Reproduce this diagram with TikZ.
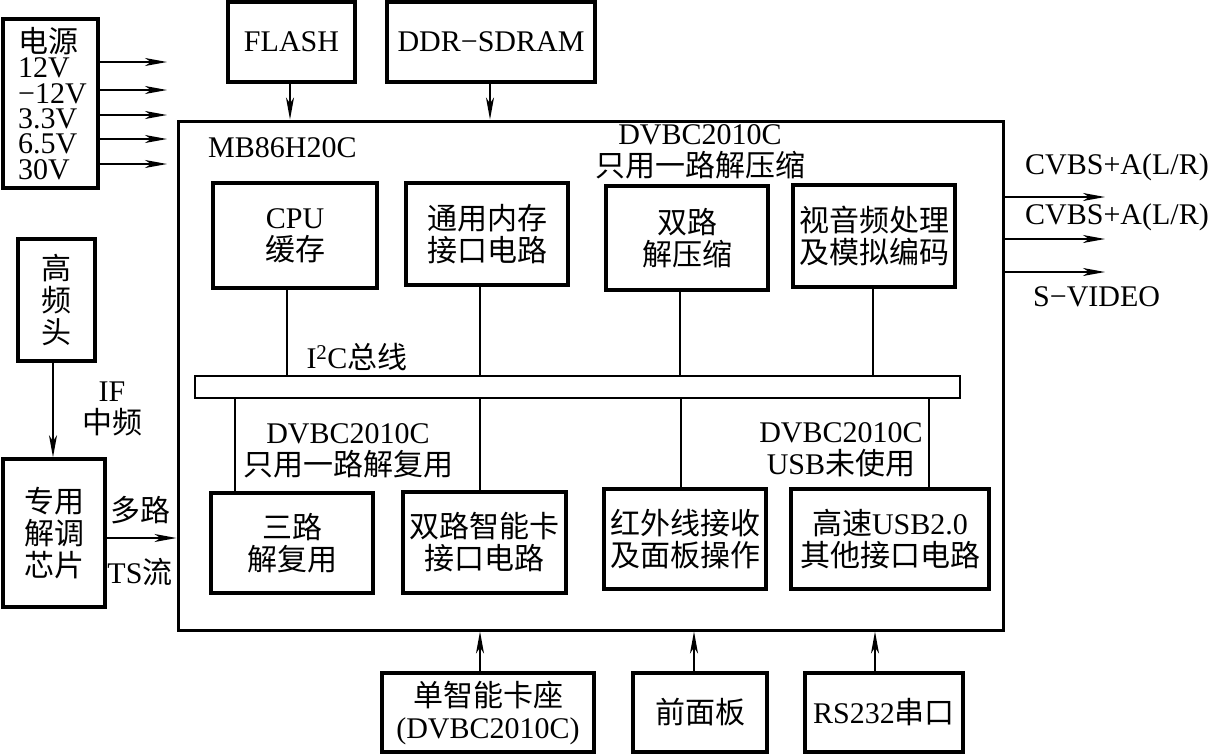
\documentclass[tikz,border=0pt]{standalone}
\usepackage{fontspec}
\setmainfont{Liberation Serif}
\newfontfamily\cjk{Noto Sans CJK SC}
\usetikzlibrary{arrows.meta}
\begin{document}
\begin{tikzpicture}[x=1pt,y=-1pt,
  every node/.style={font=\fontsize{30}{32}\selectfont},
  box/.style={draw, line width=3.5pt, inner sep=0pt, align=center},
  lbl/.style={inner sep=0pt, align=center},
  conn/.style={line width=1.6pt},
  arr/.style={line width=1.6pt, -{Stealth[length=22pt,width=8pt,inset=6pt]}}]
\useasboundingbox (0,0) rectangle (1213,755);
% main chip
\node[draw, line width=3pt, inner sep=0pt, minimum width=825pt, minimum height=509pt] (main) at (590.5,375.5) {};
\node[draw, line width=1.8pt, inner sep=0pt, minimum width=765pt, minimum height=22pt] (bus) at (577.5,387) {};
% outer boxes
\node[box, minimum width=95pt, minimum height=169pt] (power) at (50.5,103.5) {};
\node[box, minimum width=127pt, minimum height=80pt] (flash) at (291.5,42) {FLASH};
\node[box, minimum width=208pt, minimum height=80pt] (ddr) at (491,42) {DDR−SDRAM};
\node[box, minimum width=77pt, minimum height=122pt] (tuner) at (56.5,300) {\cjk 高\\\cjk 频\\\cjk 头};
\node[box, minimum width=102pt, minimum height=148pt] (demod) at (54,533) {\cjk 专用\\\cjk 解调\\\cjk 芯片};
\node[box, minimum width=212pt, minimum height=79pt] (card) at (488,712.5) {{\cjk 单智能卡座}\\(DVBC2010C)};
\node[box, minimum width=134pt, minimum height=79pt] (fp) at (700,712.5) {\cjk 前面板};
\node[box, minimum width=158pt, minimum height=79pt] (rs) at (884,712.5) {RS232{\cjk 串口}};
% inner boxes
\node[box, minimum width=164pt, minimum height=105pt] (cpu) at (295,235.5) {CPU\\{\cjk 缓存}};
\node[box, minimum width=162pt, minimum height=102pt] (mem) at (487,234) {\cjk 通用内存\\\cjk 接口电路};
\node[box, minimum width=162pt, minimum height=104pt] (dec) at (687,238) {\cjk 双路\\\cjk 解压缩};
\node[box, minimum width=162pt, minimum height=102pt] (av) at (874,236) {\cjk 视音频处理\\\cjk 及模拟编码};
\node[box, minimum width=162pt, minimum height=100pt] (demux) at (292,543) {\cjk 三路\\\cjk 解复用};
\node[box, minimum width=163pt, minimum height=101pt] (sc) at (484.5,542.5) {\cjk 双路智能卡\\\cjk 接口电路};
\node[box, minimum width=162pt, minimum height=100pt] (ir) at (685,539) {\cjk 红外线接收\\\cjk 及面板操作};
\node[box, minimum width=198pt, minimum height=100pt] (usb) at (890,539) {{\cjk 高速}USB2.0\\{\cjk 其他接口电路}};
% power text
\node[lbl, align=left, anchor=north west, font=\fontsize{30}{25.4}\selectfont] (pwt) at (18,27)
  {{\cjk 电源}\\12V\\−12V\\3.3V\\6.5V\\30V};
% labels
\node[lbl, anchor=west] (mbl) at (208,148) {MB86H20C};
\node[lbl] (l1) at (700,152) {DVBC2010C\\{\cjk 只用一路解压缩}};
\node[lbl] (i2c) at (357,357) {I\textsuperscript{2}C{\cjk 总线}};
\node[lbl] (l2) at (348,451) {DVBC2010C\\{\cjk 只用一路解复用}};
\node[lbl] (l3) at (841,450) {DVBC2010C\\USB{\cjk 未使用}};
\node[lbl] (ifl) at (112,409) {IF\\{\cjk 中频}};
\node[lbl] (mul) at (140,510) {\cjk 多路};
\node[lbl] (tsl) at (140,572) {TS{\cjk 流}};
\node[lbl, anchor=west] (o1l) at (1025,167) {CVBS+A(L/R)};
\node[lbl, anchor=west] (o2l) at (1025,217) {CVBS+A(L/R)};
\node[lbl, anchor=west] (o3l) at (1033,297) {S−VIDEO};
% free ends
\coordinate (p1) at (167,62);
\coordinate (p2) at (167,90);
\coordinate (p3) at (167,115);
\coordinate (p4) at (167,139);
\coordinate (p5) at (167,164);
\coordinate (o1) at (1105,197);
\coordinate (o2) at (1105,239);
\coordinate (o3) at (1105,272);
\coordinate (dm) at (140,538);
% power arrows
\foreach \p in {p1,p2,p3,p4,p5} \draw[arr] (power.east |- \p) -- (\p);
% outputs
\foreach \p in {o1,o2,o3} \draw[arr] (main.east |- \p) -- (\p);
% memories
\draw[arr] ([xshift=-1.5pt]flash.south) -- ([xshift=-1.5pt]flash.south |- main.north);
\draw[arr] ([xshift=-1pt]ddr.south) -- ([xshift=-1pt]ddr.south |- main.north);
% tuner and demod
\draw[arr] ([xshift=-3.5pt]tuner.south) -- ([xshift=-3.5pt]tuner.south |- demod.north);
\draw[arr] (demod.east |- dm) -- (main.west |- dm);
% bottom inputs
\draw[arr] ([xshift=-8pt]card.north) -- ([xshift=-8pt]card.north |- main.south);
\draw[arr] ([xshift=-6pt]fp.north) -- ([xshift=-6pt]fp.north |- main.south);
\draw[arr] ([xshift=-9pt]rs.north) -- ([xshift=-9pt]rs.north |- main.south);
% bus connections
\draw[conn] ([xshift=-8pt]cpu.south) -- ([xshift=-8pt]cpu.south |- bus.north);
\draw[conn] ([xshift=-7pt]mem.south) -- ([xshift=-7pt]mem.south |- bus.north);
\draw[conn] ([xshift=-7pt]dec.south) -- ([xshift=-7pt]dec.south |- bus.north);
\draw[conn] ([xshift=-1pt]av.south) -- ([xshift=-1pt]av.south |- bus.north);
\draw[conn] ([xshift=-57pt]demux.north) -- ([xshift=-57pt]demux.north |- bus.south);
\draw[conn] ([xshift=-4.5pt]sc.north) -- ([xshift=-4.5pt]sc.north |- bus.south);
\draw[conn] ([xshift=-4pt]ir.north) -- ([xshift=-4pt]ir.north |- bus.south);
\draw[conn] ([xshift=39pt]usb.north) -- ([xshift=39pt]usb.north |- bus.south);
\end{tikzpicture}
\end{document}
